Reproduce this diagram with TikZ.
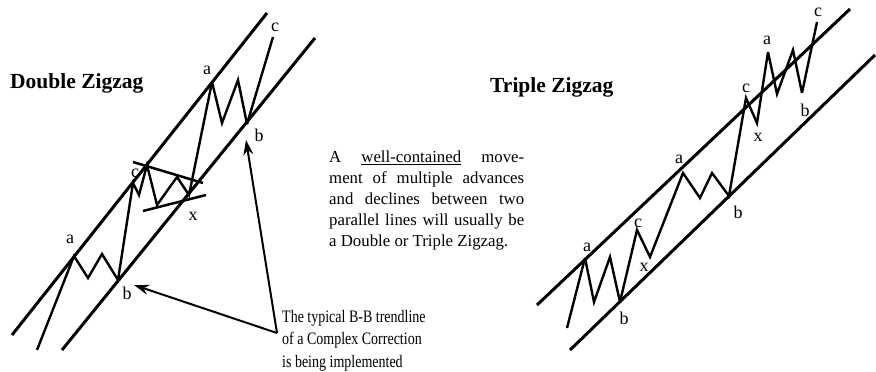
\documentclass[tikz,border=0pt]{standalone}
\usepackage{fontspec}
\setmainfont{Liberation Serif}
\newfontfamily\condfont[FakeStretch=0.8]{Liberation Serif}
\usetikzlibrary{arrows.meta}

\begin{document}
\begin{tikzpicture}[
  x=1pt, y=-1pt,
  chan/.style={line width=3pt},
  wave/.style={line width=2.4pt, miter limit=4},
  flag/.style={line width=2.5pt},
  lbl/.style={inner sep=0pt, font=\fontsize{18}{18}\selectfont},
  ttl/.style={inner sep=0pt, anchor=base west, font=\fontsize{21.5}{24}\selectfont\bfseries},
  arr/.style={line width=2pt, -{Stealth[length=15pt, width=10pt]}},
]
\useasboundingbox (0,0) rectangle (876,372);

% ============ LEFT: double zigzag ============
\node[ttl] (ttlD) at (10,88) {Double Zigzag};
% channel
\draw[chan] (12,335) -- (267,13);
\draw[chan] (62,350) -- (315,38);
% triangle x-wave
\draw[flag] (133,162) -- (203,183);
\draw[flag] (143,211) -- (206,195);
% price path
\draw[wave] (37,350) -- (74,256) -- (88,278) -- (102,254) -- (118,280)
  -- (133,183) -- (139,195) -- (147,165) -- (157,205) -- (177,177)
  -- (189,195) -- (212,82) -- (222,123) -- (238,80) -- (247,124) -- (273,37);
% wave labels
\node[lbl] (Da1) at (70,239) {a};
\node[lbl] (Db1) at (127,293) {b};
\node[lbl] (Dc1) at (135,173) {c};
\node[lbl] (Dx)  at (193,216) {x};
\node[lbl] (Da2) at (207,70) {a};
\node[lbl] (Db2) at (259,135) {b};
\node[lbl] (Dc2) at (275,27) {c};

% ============ B-B trendline note ============
\coordinate (apex) at (277,333);
\coordinate (tipL) at (134,285);
\coordinate (tipR) at (246,140);
\draw[arr] (apex) -- (tipL);
\draw[arr] (apex) -- (tipR);
\node[inner sep=0pt, anchor=north west, align=left,
  font=\condfont\fontsize{17.5}{22.5}\selectfont] (trend) at (282,310)
  {The typical B-B trendline\\ of a Complex Correction\\ is being implemented};

% ============ middle text ============
\node[inner sep=0pt, anchor=north west, text width=195pt, align=justify,
  font=\fontsize{16.8}{21}\selectfont] (note) at (329,151)
  {A \underline{well-contained} move-\linebreak ment of multiple advances\linebreak
   and declines between two\linebreak parallel lines will usually be\linebreak
   a Double or Triple Zigzag.};

% ============ RIGHT: triple zigzag ============
\node[ttl] (ttlT) at (490,92) {Triple Zigzag};
% channel
\draw[chan] (537,305) -- (850,9);
\draw[chan] (570,350) -- (875,55);
% price path
\draw[wave] (567,328) -- (585,258) -- (594,302) -- (610,257) -- (620,302)
  -- (637,230) -- (650,257) -- (683,173) -- (700,198) -- (712,173)
  -- (729,196) -- (746,98) -- (757,123) -- (768,52) -- (777,94)
  -- (793,50) -- (802,93) -- (817,22);
% wave labels
\node[lbl] (Ta1) at (587,247) {a};
\node[lbl] (Tb1) at (624,318) {b};
\node[lbl] (Tc1) at (638,223) {c};
\node[lbl] (Tx1) at (644,267) {x};
\node[lbl] (Ta2) at (679,159) {a};
\node[lbl] (Tb2) at (738,212) {b};
\node[lbl] (Tc2) at (746,88) {c};
\node[lbl] (Tx2) at (758,137) {x};
\node[lbl] (Ta3) at (767,40) {a};
\node[lbl] (Tb3) at (805,110) {b};
\node[lbl] (Tc3) at (818,12) {c};

\end{tikzpicture}
\end{document}
